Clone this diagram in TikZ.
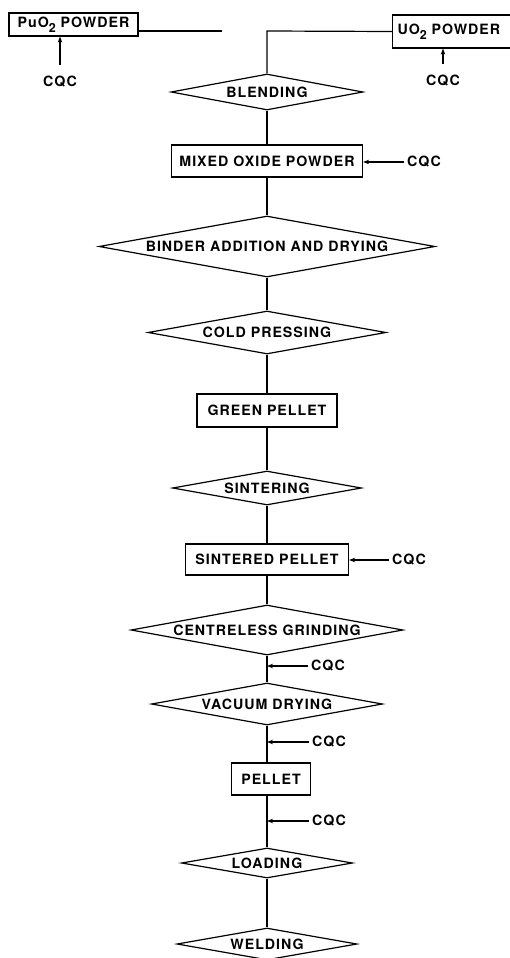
\documentclass[tikz,border=0pt]{standalone}
\usepackage{fontspec}
\setmainfont{TeX Gyre Heros}[LetterSpace=7]
\usetikzlibrary{shapes.geometric,arrows.meta}
\newcommand\lowtwo{\raisebox{-4.5pt}{\fontsize{12.5pt}{12.5pt}\selectfont 2}}
\begin{document}
\begin{tikzpicture}[x=1pt,y=-1pt,
  every node/.style={font=\fontsize{14.2pt}{16pt}\selectfont\bfseries},
  line/.style={line width=1.2pt},
  box/.style={draw,line width=1.2pt,rectangle,inner sep=0pt},
  dia/.style={draw,line width=1.2pt,diamond,inner sep=0pt},
  arr/.style={line width=1.2pt,-{Stealth[length=6pt,width=4.5pt]}},
  cqc/.style={inner sep=3pt}]
\clip (0,0) rectangle (510,958);
\fill[white] (0,0) rectangle (510,958);
% input boxes
\node[box,minimum width=129pt,minimum height=23pt] (pu) at (73.5,24.5) {PuO\lowtwo{} POWDER};
\node[box,minimum height=33pt,inner xsep=5pt,text width=125pt,align=left,anchor=west] (uo) at (392,31.5) {UO\lowtwo{} POWDER};
\node[cqc] (cqcpu) at (60,82) {CQC};
\node[cqc] (cqcuo) at (443,81) {CQC};
% main flow
\node[dia,minimum width=192pt,minimum height=36pt,label=center:BLENDING] (blend) at (267,92) {};
\node[box,minimum width=191pt,minimum height=32pt] (mixed) at (267,161) {MIXED OXIDE POWDER};
\node[dia,minimum width=336pt,minimum height=61pt,label=center:BINDER ADDITION AND DRYING] (binder) at (267,246.5) {};
\node[dia,minimum width=238pt,minimum height=43pt,label=center:COLD PRESSING] (cold) at (267,332.5) {};
\node[box,minimum width=140pt,minimum height=33pt] (green) at (267,410.5) {GREEN PELLET};
\node[dia,minimum width=189pt,minimum height=34pt,label=center:SINTERING] (sinter) at (267,488) {};
\node[box,minimum width=163pt,minimum height=31pt] (sintered) at (267,559.5) {SINTERED PELLET};
\node[dia,minimum width=272pt,minimum height=50pt,label=center:CENTRELESS GRINDING] (cg) at (267,630) {};
\node[dia,minimum width=231pt,minimum height=42pt,label=center:VACUUM DRYING] (vd) at (267,704) {};
\node[box,minimum width=79pt,minimum height=32pt] (pellet) at (271,779) {PELLET};
\node[dia,minimum width=171pt,minimum height=30pt,label=center:LOADING] (load) at (267,863) {};
\node[dia,minimum width=180pt,minimum height=32pt,label=center:WELDING] (weld) at (267,944) {};
% CQC labels
\node[cqc] (cqcm) at (424,162) {CQC};
\node[cqc] (cqcs) at (409,560) {CQC};
\node[cqc] (cqcg) at (328,666) {CQC};
\node[cqc] (cqcv) at (329,742) {CQC};
\node[cqc] (cqcp) at (329,821) {CQC};
% top connectors
\coordinate (gapend) at (222,31);
\coordinate (junc) at (267,31);
\draw[line] (pu.east |- gapend) -- (gapend);
\draw[line] (uo.west) -- (junc) -- (blend.north);
% flow connectors
\draw[line] (blend.south) -- (mixed.north);
\draw[line] (mixed.south) -- (binder.north);
\draw[line] (binder.south) -- (cold.north);
\draw[line] (cold.south) -- (green.north);
\draw[line] (green.south) -- (sinter.north);
\draw[line] (sinter.south) -- (sintered.north);
\draw[line] (sintered.south) -- (cg.north);
\draw[line] (cg.south) -- (vd.north);
\draw[line] (vd.south) -- (vd.south |- pellet.north);
\draw[line] (vd.south |- pellet.south) -- (load.north);
\draw[line] (load.south) -- (weld.north);
% CQC arrows
\draw[arr] ([yshift=8pt]cqcpu.north) -- (cqcpu.north |- pu.south);
\draw[arr] ([yshift=8pt]cqcuo.north) -- (cqcuo.north |- uo.south);
\draw[arr] (cqcm.west) -- (mixed.east |- cqcm);
\draw[arr] (cqcs.west) -- (sintered.east |- cqcs);
\draw[arr] (cqcg.west) -- (cg.south |- cqcg);
\draw[arr] (cqcv.west) -- (vd.south |- cqcv);
\draw[arr] (cqcp.west) -- (load.north |- cqcp);
\end{tikzpicture}
\end{document}
